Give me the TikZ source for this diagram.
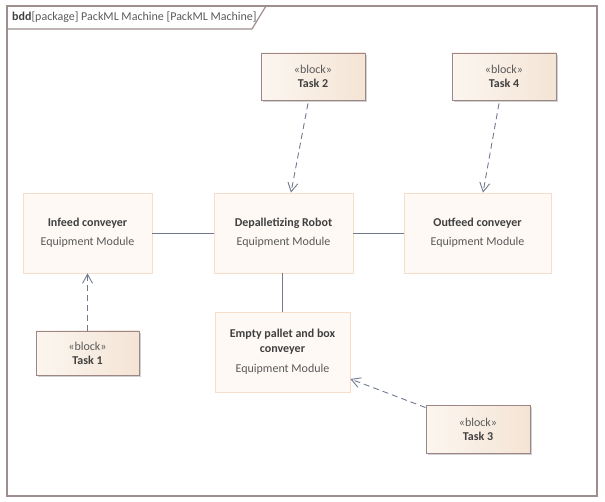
\documentclass[tikz,border=0pt]{standalone}
\usepackage{fontspec}
\setmainfont{Carlito}
\usetikzlibrary{arrows.meta,shadows}
\definecolor{framec}{HTML}{9E8E8E}
\definecolor{modfill}{HTML}{FEF9F5}
\definecolor{moddraw}{HTML}{F6DECB}
\definecolor{blkdraw}{HTML}{9C8686}
\definecolor{blkl}{HTML}{FCF6F0}
\definecolor{blkr}{HTML}{F4E4D5}
\definecolor{linec}{HTML}{6F7A8E}
\definecolor{txtb}{HTML}{404040}
\definecolor{txtn}{HTML}{5A5A5A}
\tikzset{
  x=1pt,y=-1pt,
  modbox/.style={draw=moddraw,fill=modfill,line width=0.8pt,inner sep=0pt,align=center,font=\fontsize{12}{14}\selectfont,text=txtn},
  blkbox/.style={draw=blkdraw,line width=0.9pt,left color=blkl,right color=blkr,inner sep=0pt,align=center,
    font=\fontsize{12}{14}\selectfont,text=txtn,
    drop shadow={shadow xshift=2pt,shadow yshift=-2pt,fill=black!30,opacity=0.6}},
  assoc/.style={draw=linec,line width=0.9pt},
  dep/.style={draw=linec,line width=0.9pt,dash pattern=on 6pt off 4pt,-{Straight Barb[length=9pt,width=10pt,line width=0.9pt]}},
}
\begin{document}
\begin{tikzpicture}
\useasboundingbox (0,0) rectangle (605,502);
% frame
\draw[framec,line width=1.4pt] (7,6) rectangle (597,496);
\draw[framec,line width=1.2pt] (7,29) -- (252,29) -- (266,6);
\node[anchor=base west,inner sep=0pt,font=\fontsize{12}{14}\selectfont,text=txtn] (title) at (12,21)
  {\textbf{\textcolor{txtb}{bdd}}[package] PackML Machine [PackML Machine]};
% modules
\node[modbox,minimum width=129pt,minimum height=80pt] (inf) at (87.5,233)
  {\textbf{\textcolor{txtb}{Infeed conveyer}}\\[5pt]Equipment Module};
\node[modbox,minimum width=139pt,minimum height=80pt] (dep) at (283.5,233)
  {\textbf{\textcolor{txtb}{Depalletizing Robot}}\\[5pt]Equipment Module};
\node[modbox,minimum width=147pt,minimum height=80pt] (out) at (477.5,233)
  {\textbf{\textcolor{txtb}{Outfeed conveyer}}\\[5pt]Equipment Module};
\node[modbox,minimum width=135pt,minimum height=80pt] (emp) at (282.5,352)
  {\textbf{\textcolor{txtb}{Empty pallet and box}}\\[1pt]\textbf{\textcolor{txtb}{conveyer}}\\[6pt]Equipment Module};
% blocks
\node[blkbox,minimum width=103pt,minimum height=44pt] (t1) at (87.5,353)
  {«block»\\[0pt]\textbf{\textcolor{txtb}{Task 1}}};
\node[blkbox,minimum width=104pt,minimum height=47pt] (t2) at (313,76.5)
  {«block»\\[0pt]\textbf{\textcolor{txtb}{Task 2}}};
\node[blkbox,minimum width=104pt,minimum height=48pt] (t3) at (478,429)
  {«block»\\[0pt]\textbf{\textcolor{txtb}{Task 3}}};
\node[blkbox,minimum width=104pt,minimum height=47pt] (t4) at (504,76.5)
  {«block»\\[0pt]\textbf{\textcolor{txtb}{Task 4}}};
% associations
\draw[assoc] (inf.east) -- (dep.west);
\draw[assoc] (dep.east) -- (out.west);
\draw[assoc] ([xshift=-1.5pt]dep.south) -- ([xshift=-0.5pt]emp.north);
% dependencies
\draw[dep] (t1.north) -- (inf.south);
\draw[dep] ([xshift=-5pt,yshift=-3pt]t2.south) -- ([xshift=7.5pt]dep.north);
\draw[dep] ([xshift=-5pt,yshift=-3pt]t4.south) -- ([xshift=5.5pt]out.north);
\draw[dep] ([yshift=-3pt]t3.north west) -- ([yshift=-27pt]emp.east);
\end{tikzpicture}
\end{document}
